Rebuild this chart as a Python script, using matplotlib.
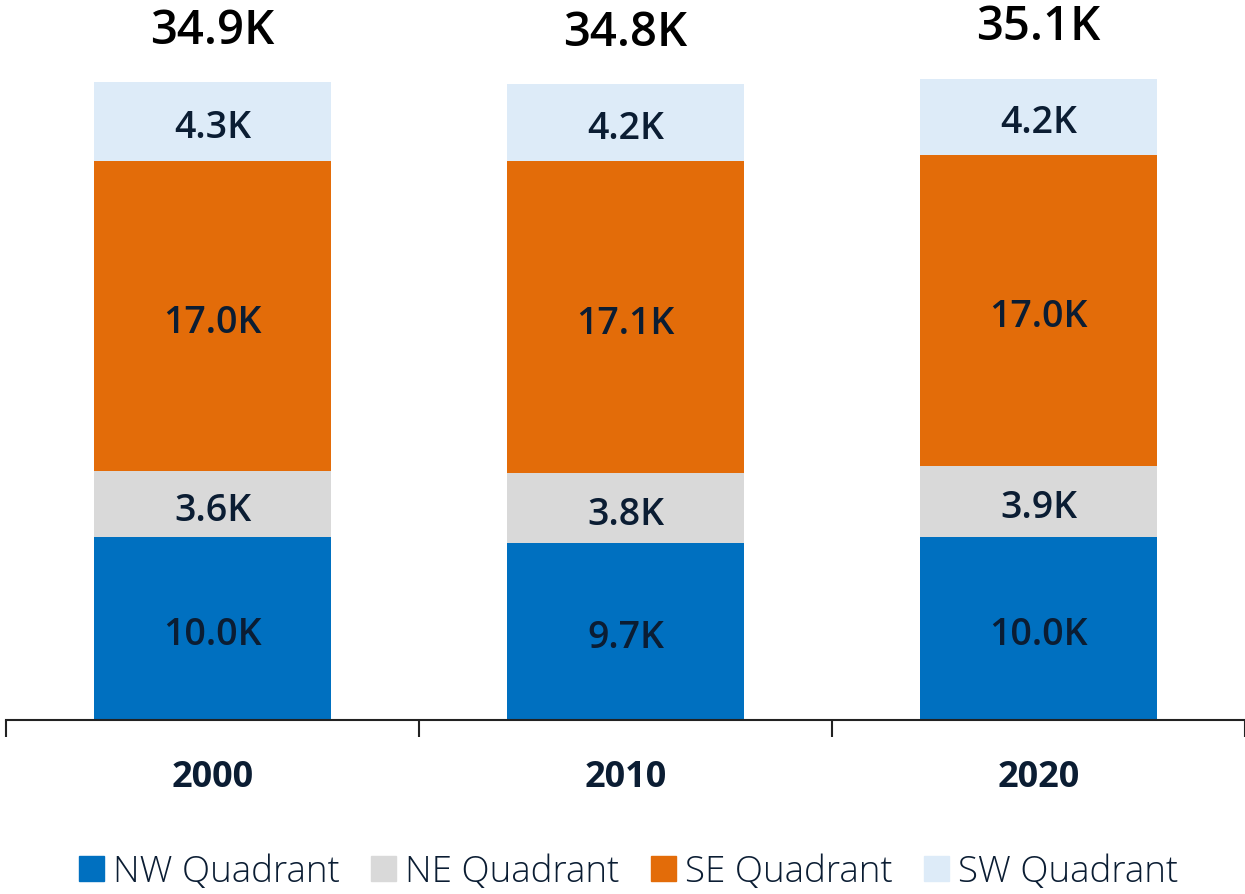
import matplotlib
matplotlib.use("Agg")
import matplotlib.pyplot as plt
from matplotlib.patches import Patch
from matplotlib.transforms import offset_copy
import numpy as np

plt.rcParams['font.family'] = ['Open Sans', 'DejaVu Sans']

# datos
years = ['2000', '2010', '2020']
series = ['NW Quadrant', 'NE Quadrant', 'SE Quadrant', 'SW Quadrant']
nw = [10.0, 9.7, 10.0]
ne = [3.6, 3.8, 3.9]
se = [17.0, 17.1, 17.0]
sw = [4.3, 4.2, 4.2]
totals = [34.9, 34.8, 35.1]
colors = ['#0070C0', '#D9D9D9', '#E36C09', '#DDEBF8']
text_col = '#0B1D33'

fig = plt.figure(figsize=(12.45, 8.94), dpi=100)
ax = fig.add_axes([6 / 1245, 174 / 894, 1239 / 1245, 720 / 894])

# desplazar la linea base del texto para centrar visualmente los digitos
tr_seg = offset_copy(ax.transData, fig=fig, x=0, y=-16.5, units='dots')

x = np.arange(len(years))
bottom = np.zeros(len(years))
for vals, col in zip([nw, ne, se, sw], colors):
    vals = np.array(vals)
    ax.bar(x, vals, width=0.576, bottom=bottom, color=col, linewidth=0)
    for xi, b, v in zip(x, bottom, vals):
        ax.text(xi, b + v / 2, f'{v:.1f}K', ha='center', va='baseline',
                transform=tr_seg,
                fontsize=27, fontweight='semibold', color=text_col)
    bottom += vals

for xi, t in zip(x, totals):
    ax.text(xi, t + 2.1, f'{t:.1f}K', ha='center', va='baseline',
            fontsize=34, fontweight='semibold', color='black')

ax.set_xlim(-0.5, 2.5)
ax.set_ylim(0, 39.4)
ax.set_yticks([])
for s in ['top', 'right', 'left']:
    ax.spines[s].set_visible(False)
ax.spines['bottom'].set_color('#222222')
ax.spines['bottom'].set_linewidth(1.5)

ax.set_xticks(x)
ax.set_xticklabels(years, fontsize=26, fontweight='bold', color=text_col)
ax.tick_params(axis='x', which='major', length=0, pad=29)
ax.set_xticks([-0.5, 0.5, 1.5, 2.5], minor=True)
ax.tick_params(axis='x', which='minor', length=12, width=1.5, color='#222222')

handles = [Patch(color=c, label=s) for c, s in zip(colors, series)]
leg = fig.legend(handles=handles, loc='center', bbox_to_anchor=(0.505, 22 / 894),
                 ncol=4, frameon=False, fontsize=26.5, handlelength=0.68, handleheight=0.68,
                 handletextpad=0.25, columnspacing=0.85)
for t in leg.get_texts():
    t.set_color(text_col)
    t.set_fontweight('light')

fig.savefig('out.png', dpi=100)
